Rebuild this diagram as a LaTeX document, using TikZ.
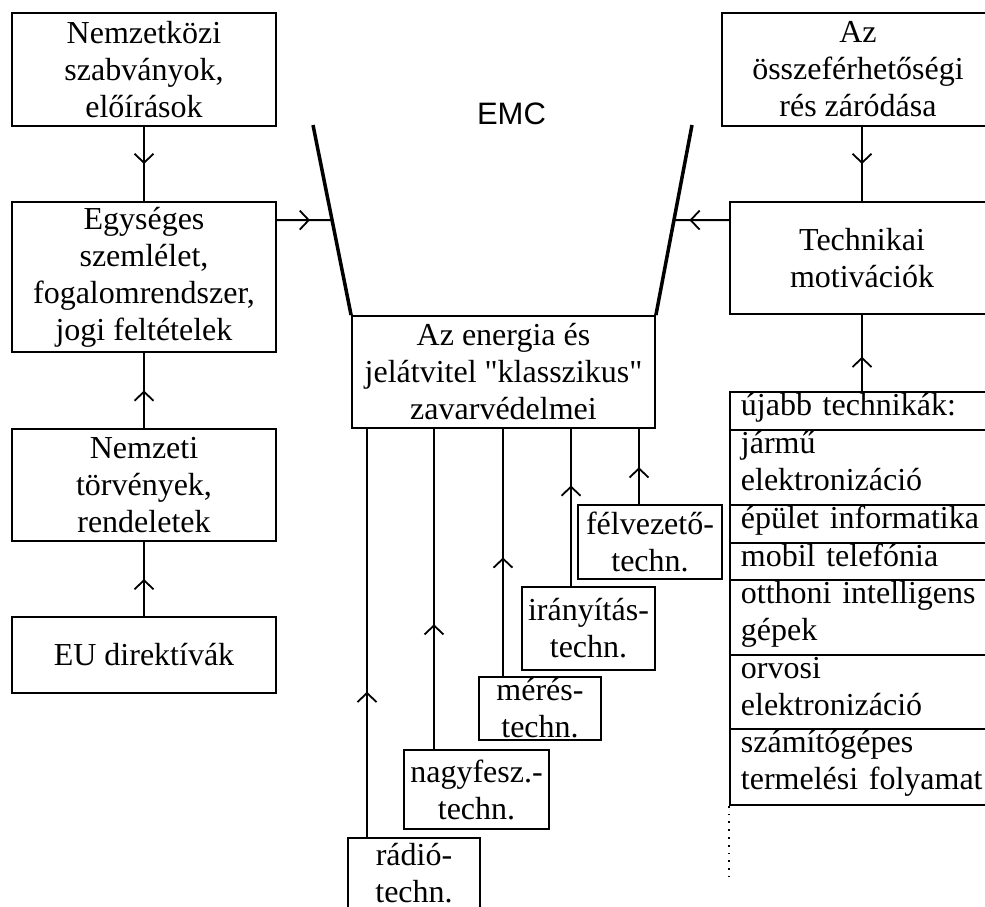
\documentclass[tikz,border=0pt]{standalone}
\usepackage{fontspec}
\setmainfont{Liberation Serif}[Ligatures=TeXOff]
\newfontfamily\arialf{Liberation Sans}
\usetikzlibrary{arrows.meta,decorations.markings,calc}
\begin{document}
\begin{tikzpicture}[x=1pt,y=-1pt,
  box/.style={draw, line width=1.8pt, inner sep=0pt, align=center,
    font=\fontsize{32}{37}\selectfont},
  conn/.style={line width=1.8pt},
  funnel/.style={line width=3.5pt},
  midarr/.style={postaction={decorate}, decoration={markings,
    mark=at position #1 with {\arrow{Straight Barb[length=9pt,width=19pt]}}}},
  rowbox/.style={draw, line width=1.8pt, anchor=north west, text width=245pt,
    align=left, inner xsep=11pt, inner ysep=0pt, text height=24pt, text depth=#1,
    font=\fontsize{32}{37}\selectfont}
]
\useasboundingbox (0,0) rectangle (985,906);

% left column
\node[box, minimum width=264pt, minimum height=113pt] (nemz) at (144,69.5)
  {Nemzetközi\\szabványok,\\előírások};
\node[box, minimum width=264pt, minimum height=150pt] (egys) at (144,277)
  {Egységes\\szemlélet,\\fogalomrendszer,\\jogi feltételek};
\node[box, minimum width=264pt, minimum height=112pt] (nemzeti) at (144,485)
  {Nemzeti\\törvények,\\rendeletek};
\node[box, minimum width=264pt, minimum height=76pt] (eu) at (144,655)
  {EU direktívák};

% right column
\node[box, minimum width=272pt, minimum height=113pt] (az) at (858,69.5)
  {Az\\összeférhetőségi\\rés záródása};
\node[box, minimum width=264pt, minimum height=112pt] (tech) at (862,258)
  {Technikai\\motivációk};

% centre
\node[box, minimum width=303pt, minimum height=112pt] (ctr) at (503.5,372)
  {Az energia és\\jelátvitel "klasszikus"\\zavarvédelmei};
\node[font=\arialf\fontsize{31}{36}\selectfont, inner sep=0pt] (emc) at (511.5,114) {EMC};

% bottom boxes
\node[box, minimum width=144pt, minimum height=74pt] (felv) at (650,542) {félvezető-\\techn.};
\node[box, minimum width=133pt, minimum height=83pt] (iran) at (588.5,628.5) {irányítás-\\techn.};
\node[box, minimum width=122pt, minimum height=63pt] (meres) at (540,708.5) {mérés-\\techn.};
\node[box, minimum width=145pt, minimum height=79pt] (nagy) at (476.5,789.5) {nagyfesz.-\\techn.};
\node[box, minimum width=132pt, minimum height=70pt] (radio) at (414,873) {rádió-\\techn.};

% list
\node[rowbox=14pt] (r1) at (729,391) {újabb technikák:};
\node[rowbox=51pt] (r2) at (729,429) {jármű\\elektronizáció};
\node[rowbox=14pt] (r3) at (729,504) {épület informatika};
\node[rowbox=13pt] (r4) at (729,542) {mobil telefónia};
\node[rowbox=51pt] (r5) at (729,579) {otthoni intelligens\\gépek};
\node[rowbox=50pt] (r6) at (729,654) {orvosi\\elektronizáció};
\node[rowbox=52pt] (r7) at (729,728) {számítógépes\\termelési folyamat};
\coordinate (dotend) at (729,877);
\draw[line width=1.8pt, dash pattern=on 1.8pt off 6pt] (r7.south west) -- (dotend);

% funnel
\coordinate (fL) at (313,125);
\coordinate (fR) at (692,125);
\coordinate (cNW) at (ctr.north west);
\coordinate (cNE) at (ctr.north east);
\draw[funnel] (fL) -- (cNW);
\draw[funnel] (fR) -- (cNE);

% left connectors
\draw[conn, midarr=0.5] (nemz.south) -- (egys.north);
\draw[conn, midarr=0.5] (nemzeti.north) -- (egys.south);
\draw[conn, midarr=0.5] (eu.north) -- (nemzeti.south);
\coordinate (e1) at ($(egys.north east)+(0,19)$);
\coordinate (e2) at ($(egys.north east)+(100,19)$);
\draw[conn, midarr=0.6] (e1) -- (intersection of e1--e2 and fL--cNW);

% right connectors
\draw[conn, midarr=0.5] (tech.north |- az.south) -- (tech.north);
\draw[conn, midarr=0.45] (tech.south |- r1.north) -- (tech.south);
\coordinate (t1) at ($(tech.north west)+(0,19)$);
\coordinate (t2) at ($(tech.north west)+(-100,19)$);
\draw[conn, midarr=0.72] (t1) -- (intersection of t1--t2 and fR--cNE);

% bottom connectors
\coordinate (l1) at (367,0);
\coordinate (l2) at (434,0);
\coordinate (l3) at (503,0);
\coordinate (l4) at (571,0);
\coordinate (l5) at (639,0);
\draw[conn, midarr=0.356] (l1 |- radio.north) -- (l1 |- ctr.south);
\draw[conn, midarr=0.39] (l2 |- nagy.north) -- (l2 |- ctr.south);
\draw[conn, midarr=0.48] (l3 |- meres.north) -- (l3 |- ctr.south);
\draw[conn, midarr=0.64] (l4 |- iran.north) -- (l4 |- ctr.south);
\draw[conn, midarr=0.49] (l5 |- felv.north) -- (l5 |- ctr.south);
\end{tikzpicture}
\end{document}
